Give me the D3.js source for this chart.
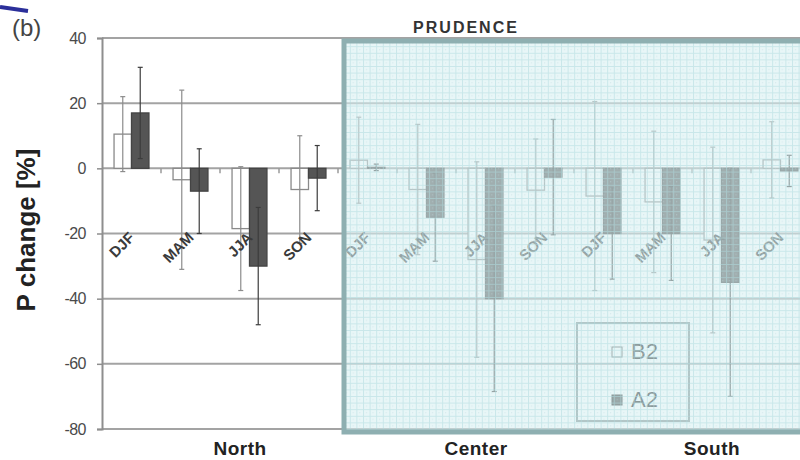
<!DOCTYPE html>
<html>
<head>
<meta charset="utf-8">
<script src="https://cdn.jsdelivr.net/npm/d3@7"></script>
<style>
body{margin:0;background:#fff;}
svg{display:block;font-family:Arial,"Liberation Sans",sans-serif;}
</style>
</head>
<body>
<svg id="chart" width="800" height="460"></svg>
<script>
// regions and seasons along the x axis
const regions = ["North", "Center", "South"];
const seasons = ["DJF", "MAM", "JJA", "SON"];
const series = ["B2", "A2"];

// precipitation change [%], per region then per season
const b2Values = [10.5, -3.5, -18.5, -6.5,   2.5, -6.5, -28, -6.7,   -8.5, -10.3, -22, 2.6];
const b2Err    = [11.5, 27.5, 19,   16.5,   13.2, 20,   30,  15.7,   29,   21.7,  28.5, 11.7];
const a2Values = [17,   -7,   -30,  -3,     0.3,  -15,  -40, -2.7,   -20,  -20,   -35,  -0.8];
const a2Err    = [14,   13,   18,   10,     1,    13.5, 28.5, 17.7,  14,   14.4,  35,   4.8];

const yTicks = [40, 20, 0, -20, -40, -60, -80];

let keys = [];
regions.forEach(function(r){ seasons.forEach(function(s){ keys.push(r + "|" + s); }); });

let rows = keys.map(function(k, i){
    return {key: k, season: k.split("|")[1], region: k.split("|")[0],
            vals: [{s: "B2", v: b2Values[i], e: b2Err[i]}, {s: "A2", v: a2Values[i], e: a2Err[i]}]};
});

const svg = d3.select("#chart");

const x = d3.scaleBand().domain(keys).range([102, 810]);
const xs = d3.scaleBand().domain(series).range([0, x.bandwidth()]).paddingOuter(0.69);
const y = d3.scaleLinear().domain([-80, 40]).range([429, 38]);

// grid lines
svg.append("g").selectAll("line")
    .data(yTicks)
  .enter().append("line")
    .attr("x1", x.range()[0]).attr("x2", x.range()[1])
    .attr("y1", function(d){ return y(d); })
    .attr("y2", function(d){ return y(d); })
    .attr("stroke", "#a3a3a3")
    .attr("stroke-width", 2);

// y axis
let y_axis = d3.axisLeft(y).tickValues(yTicks).tickSize(5).tickPadding(11)
    .tickFormat(function(d){ return String(d); });
let gy = svg.append("g")
    .attr("transform", "translate(" + x.range()[0] + ",0)")
    .call(y_axis);
gy.select(".domain").attr("stroke", "#8e8e8e").attr("stroke-width", 2);
gy.selectAll(".tick line").attr("stroke", "#8e8e8e").attr("stroke-width", 1.5);
gy.selectAll(".tick text")
    .attr("fill", "#4a4a4a")
    .style("font-size", "16px")
    .style("letter-spacing", "-0.5px")
    .style("font-family", "Arial, 'Liberation Sans', sans-serif");

// small ticks on the zero line between categories
svg.append("g").selectAll("line")
    .data(keys.slice(1))
  .enter().append("line")
    .attr("x1", function(d){ return x(d); })
    .attr("x2", function(d){ return x(d); })
    .attr("y1", y(0))
    .attr("y2", y(0) + 5)
    .attr("stroke", "#9a9a9a")
    .attr("stroke-width", 1.5);

// bars
let groups = svg.append("g").selectAll("g")
    .data(rows)
  .enter().append("g")
    .attr("transform", function(d){ return "translate(" + x(d.key) + ",0)"; });

groups.selectAll("rect")
    .data(function(d){ return d.vals; })
  .enter().append("rect")
    .attr("x", function(d){ return xs(d.s); })
    .attr("y", function(d){ return y(Math.max(0, d.v)); })
    .attr("width", xs.bandwidth())
    .attr("height", function(d){ return Math.abs(y(d.v) - y(0)); })
    .attr("fill", function(d){ return d.s == "B2" ? "#fff" : "#555"; })
    .attr("stroke", function(d){ return d.s == "B2" ? "#8a8a8a" : "#444"; })
    .attr("stroke-width", 1.3);

// error bars
let eb = groups.selectAll("g.err")
    .data(function(d){ return d.vals; })
  .enter().append("g")
    .attr("class", "err")
    .attr("stroke", function(d){ return d.s == "B2" ? "#8c8c8c" : "#3c3c3c"; })
    .attr("stroke-width", 1.2);
eb.append("line")
    .attr("x1", function(d){ return xs(d.s) + xs.bandwidth() / 2; })
    .attr("x2", function(d){ return xs(d.s) + xs.bandwidth() / 2; })
    .attr("y1", function(d){ return y(d.v + d.e); })
    .attr("y2", function(d){ return y(d.v - d.e); });
[1, -1].forEach(function(sgn){
    eb.append("line")
        .attr("x1", function(d){ return xs(d.s) + xs.bandwidth() / 2 - 2.5; })
        .attr("x2", function(d){ return xs(d.s) + xs.bandwidth() / 2 + 2.5; })
        .attr("y1", function(d){ return y(d.v + sgn * d.e); })
        .attr("y2", function(d){ return y(d.v + sgn * d.e); });
});

// season labels, rotated
svg.append("g").selectAll("text")
    .data(rows)
  .enter().append("text")
    .attr("transform", function(d){
        return "translate(" + (x(d.key) + x.bandwidth() / 2 + 4) + "," + (y(-20) + 5) + ") rotate(-45)";
    })
    .attr("text-anchor", "end")
    .attr("fill", "#3a3a3a")
    .style("font-size", "15px")
    .style("font-weight", "bold")
    .text(function(d){ return d.season; });

// legend
let lg = svg.append("g").attr("transform", "translate(577,323)");
lg.append("rect").attr("width", 112).attr("height", 98)
    .attr("fill", "none").attr("stroke", "#7e8c8c").attr("stroke-width", 2);
lg.selectAll("g.item")
    .data(series)
  .enter().append("g")
    .attr("class", "item")
    .attr("transform", function(d, i){ return "translate(35," + (24 + i * 48) + ")"; })
    .each(function(d){
        let g = d3.select(this);
        g.append("rect").attr("width", 10).attr("height", 10)
            .attr("fill", d == "B2" ? "#fff" : "#444")
            .attr("stroke", d == "B2" ? "#555" : "#222");
        g.append("text").attr("x", 19).attr("y", 12)
            .attr("fill", "#222")
            .style("font-size", "22px")
            .text(d);
    });

// teal graph-paper overlay over Center and South
let defs = svg.append("defs");
let pat = defs.append("pattern")
    .attr("id", "paper")
    .attr("patternUnits", "userSpaceOnUse")
    .attr("width", 6.6).attr("height", 6.6);
pat.append("path").attr("d", "M0,0.5H6.6M0.5,0V6.6")
    .attr("stroke", "#aedbdf").attr("stroke-width", 1).attr("opacity", 0.55);
pat.append("circle").attr("cx", 3.5).attr("cy", 3.5).attr("r", 0.55).attr("fill", "#bcd9dc").attr("opacity", 0.7);

let ox = x("Center|DJF") + 6;
let ov = svg.append("g");
ov.append("rect")
    .attr("x", ox).attr("y", y(40) + 3)
    .attr("width", 820 - ox).attr("height", y(-80) - y(40))
    .attr("fill", "#d8f0f2").attr("opacity", 0.58);
ov.append("rect")
    .attr("x", ox).attr("y", y(40) + 3)
    .attr("width", 820 - ox).attr("height", y(-80) - y(40))
    .attr("fill", "url(#paper)");
ov.append("rect")
    .attr("x", ox).attr("y", y(40) + 3)
    .attr("width", 820 - ox).attr("height", y(-80) - y(40))
    .attr("fill", "none").attr("stroke", "#8eafb1").attr("stroke-width", 5);

// region labels
svg.append("g").selectAll("text")
    .data(regions)
  .enter().append("text")
    .attr("x", function(r){ return x(r + "|JJA") + 20; })
    .attr("y", 455)
    .attr("text-anchor", "middle")
    .attr("fill", "#222")
    .style("font-size", "19px")
    .style("font-weight", "bold")
    .style("letter-spacing", "0.5px")
    .text(function(r){ return r; });

// title
svg.append("text")
    .attr("x", 466).attr("y", 33)
    .attr("text-anchor", "middle")
    .attr("fill", "#333")
    .style("font-size", "16px")
    .style("font-weight", "bold")
    .style("letter-spacing", "2px")
    .text("PRUDENCE");

// panel tag
svg.append("line")
    .attr("x1", 0).attr("y1", 7).attr("x2", 28).attr("y2", 11)
    .attr("stroke", "#2b2f9a").attr("stroke-width", 4);
svg.append("text")
    .attr("x", 12).attr("y", 36)
    .attr("fill", "#444")
    .style("font-size", "24px")
    .text("(b)");

// y label
svg.append("text")
    .attr("transform", "translate(35,230) rotate(-90)")
    .attr("text-anchor", "middle")
    .attr("fill", "#222")
    .style("font-size", "26px")
    .style("font-weight", "bold")
    .text("P change [%]");
</script>
</body>
</html>
